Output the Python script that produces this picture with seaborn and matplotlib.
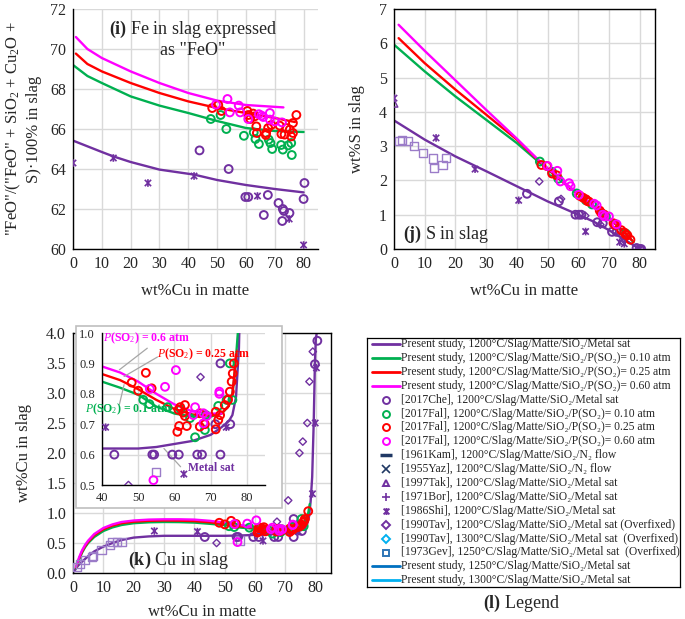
import matplotlib
matplotlib.use("Agg")
import matplotlib.pyplot as plt
import matplotlib.patches as mpatches
from matplotlib.path import Path
import seaborn as sns

sns.set_style("whitegrid")
plt.rcParams['font.family'] = ['Liberation Serif', 'DejaVu Serif']
plt.rcParams['mathtext.fontset'] = 'custom'
plt.rcParams['mathtext.rm'] = 'Liberation Serif'
plt.rcParams['mathtext.it'] = 'Liberation Serif:italic'
plt.rcParams['mathtext.bf'] = 'Liberation Serif:bold'

PURPLE = '#7030A0'
GREEN = '#00B050'
RED = '#FF0000'
MAGENTA = '#FF00FF'
LAVENDER = '#9B7CC8'
NAVY = '#203864'
# Excel style "star": an x with a vertical stroke
STAR = Path([(-1, -1), (1, 1), (-1, 1), (1, -1), (0, -1.2), (0, 1.2)],
            [Path.MOVETO, Path.LINETO, Path.MOVETO, Path.LINETO, Path.MOVETO, Path.LINETO])

# ---------------- (i) "FeO" in slag ----------------
feo_purple_x = [0, 10, 14, 20, 30, 42, 50, 60, 70, 80]
feo_purple_y = [65.42, 64.85, 64.63, 64.35, 63.97, 63.72, 63.45, 63.2, 63.0, 62.83]
feo_green_x = [0, 5, 10, 20, 30, 40, 50, 60, 70, 80]
feo_green_y = [69.2, 68.65, 68.3, 67.63, 67.17, 66.8, 66.4, 66.05, 65.9, 65.85]
feo_red_x = [1, 5, 10, 20, 30, 40, 50, 60, 70, 77]
feo_red_y = [69.77, 69.25, 68.88, 68.3, 67.8, 67.38, 67.05, 66.8, 66.55, 66.35]
feo_mag_x = [1, 5, 10, 20, 30, 40, 50, 60, 73]
feo_mag_y = [70.6, 70.0, 69.55, 68.88, 68.3, 67.8, 67.42, 67.2, 67.08]

feo_che_x = [43.9, 54.0, 59.8, 60.8, 67.6, 66.2, 71.3, 72.8, 73.2, 75.1, 72.6, 80.3, 80.0]
feo_che_y = [64.93, 64.0, 62.6, 62.6, 62.7, 61.7, 62.3, 62.0, 61.9, 61.8, 61.4, 63.3, 62.5]
feo_shi_x = [0, 14, 26, 42, 64, 75, 80]
feo_shi_y = [64.3, 64.55, 63.3, 63.65, 62.65, 61.5, 60.2]
feo_fal10_x = [47.8, 51.2, 53.2, 59.3, 62.7, 63.3, 64.5, 67.9, 68.5, 69.1, 72.2, 72.8, 75.7, 75.9, 74.6]
feo_fal10_y = [66.5, 66.7, 66.0, 65.66, 65.83, 65.5, 65.25, 65.47, 65.3, 65.0, 65.2, 64.97, 65.3, 64.7, 65.18]
feo_fal25_x = [48.3, 50.4, 51.5, 60.5, 60.8, 61.5, 62.5, 63.0, 63.6, 63.8, 67.0, 67.7, 68.8,
               71.7, 72.3, 74.0, 75.2, 75.7, 76.3, 77.5, 76.3, 73.4, 66.9]
feo_fal25_y = [67.05, 67.2, 66.9, 66.9, 66.7, 66.5, 66.77, 66.63, 66.13, 65.8, 65.8, 66.05, 66.2,
               66.17, 65.75, 66.05, 65.97, 65.63, 65.8, 66.7, 66.3, 65.72, 65.7]
feo_fal60_x = [53.6, 49.6, 54.4, 57.5, 58.0, 60.8, 65.4, 66.0, 68.3, 68.3, 70.0, 72.5, 64.5]
feo_fal60_y = [67.5, 67.22, 66.83, 67.17, 66.83, 66.5, 66.67, 66.6, 66.8, 66.47, 66.38, 66.33, 66.74]

# ---------------- (j) S in slag ----------------
s_purple_x = [0, 10, 20, 30, 40, 50, 60, 65, 70, 75, 80]
s_purple_y = [3.75, 3.19, 2.7, 2.27, 1.83, 1.39, 1.0, 0.8, 0.55, 0.28, 0.0]
s_green_x = [0, 10, 20, 30, 40, 47, 55, 60, 65, 70, 75, 78]
s_green_y = [5.96, 5.18, 4.45, 3.77, 3.09, 2.55, 1.95, 1.6, 1.25, 0.9, 0.5, 0.2]
s_red_x = [1.5, 10, 20, 30, 40, 47, 55, 60, 65, 70, 75, 77.5]
s_red_y = [6.15, 5.42, 4.65, 3.92, 3.19, 2.58, 1.95, 1.6, 1.25, 0.9, 0.5, 0.25]
s_mag_x = [1.5, 10, 20, 30, 40, 47, 55, 60, 65, 70, 73]
s_mag_y = [6.54, 5.78, 4.92, 4.06, 3.22, 2.6, 1.97, 1.62, 1.27, 0.92, 0.7]

s_fal10_x = [47.5, 51.5, 53.5, 59.5, 62.5, 64.5, 68.0, 69.0, 72.0, 75.5]
s_fal10_y = [2.55, 2.25, 2.05, 1.62, 1.42, 1.3, 1.02, 0.95, 0.72, 0.45]
s_fal25_x = [48, 49.8, 51.5, 53, 60.5, 61.5, 62.5, 63, 63.5, 67, 67.5, 68.5, 71.5, 72, 74, 75, 75.5, 76, 77]
s_fal25_y = [2.45, 2.42, 2.2, 2.15, 1.55, 1.5, 1.45, 1.4, 1.38, 1.12, 1.05, 1.0, 0.75, 0.7, 0.55, 0.48, 0.42, 0.4, 0.27]
s_fal60_x = [50, 53.2, 54.2, 57, 57.5, 60.2, 65.2, 66, 68, 68.5, 70, 72.5]
s_fal60_y = [2.42, 2.28, 1.97, 1.92, 1.83, 1.58, 1.32, 1.27, 1.0, 0.95, 0.95, 0.72]
s_che_x = [43.3, 53.7, 59.1, 60.2, 61.0, 66.2, 68.0, 71.0, 72.5, 79.0, 80.0, 80.5]
s_che_y = [1.61, 1.39, 1.0, 1.0, 1.0, 0.78, 0.75, 0.5, 0.5, 0.03, 0.0, 0.0]
s_shi_x = [0, 13.7, 26.4, 40.6, 62.4, 73.5, 75, 80]
s_shi_y = [4.4, 3.24, 2.33, 1.42, 0.51, 0.2, 0.15, 0.0]
s_tak_x = [0]
s_tak_y = [4.25]
s_tav_x = [47.3, 54.4, 62.3, 67.2, 72.0, 75.0]
s_tav_y = [1.97, 1.46, 0.97, 0.71, 0.5, 0.3]
s_gev_x = [1.8, 2.6, 4.6, 6.4, 9.5, 12.6, 13.1, 15.8, 16.9]
s_gev_y = [3.16, 3.17, 3.14, 3.01, 2.8, 2.64, 2.36, 2.46, 2.65]

# ---------------- (k) Cu in slag ----------------
cu_purple_x = [0.5, 1, 2, 3, 5, 7, 10, 13, 16, 20, 25, 30, 40, 50, 55, 60, 65, 70, 73, 75,
               76, 77, 77.8, 78.3, 78.8, 79.3, 79.7, 80.0, 80.3]
cu_purple_y = [0.03, 0.08, 0.14, 0.19, 0.28, 0.36, 0.44, 0.5, 0.55, 0.59, 0.61, 0.62, 0.62, 0.62,
               0.625, 0.635, 0.645, 0.665, 0.69, 0.71, 0.73, 0.79, 0.95, 1.2, 1.6, 2.5, 3.5, 3.9, 4.0]
cu_green_x = [1, 2, 3, 4, 5, 7, 10, 13, 16, 20, 25, 30, 35, 40, 45, 50, 55, 60, 65, 70, 73,
              75, 76, 76.5, 77, 77.5, 78]
cu_green_y = [0.08, 0.22, 0.34, 0.43, 0.5, 0.6, 0.7, 0.76, 0.8, 0.83, 0.845, 0.85, 0.848, 0.84,
              0.82, 0.797, 0.758, 0.735, 0.725, 0.725, 0.735, 0.76, 0.8, 0.85, 0.92, 1.0, 1.15]
cu_red_x = [1, 2, 3, 4, 5, 7, 10, 13, 16, 20, 25, 30, 35, 40, 45, 50, 55, 60, 65, 70, 73,
            75, 76, 76.5, 77]
cu_red_y = [0.09, 0.24, 0.36, 0.45, 0.52, 0.63, 0.73, 0.79, 0.83, 0.855, 0.87, 0.875, 0.872,
            0.865, 0.845, 0.815, 0.78, 0.75, 0.732, 0.728, 0.735, 0.76, 0.8, 0.86, 0.93]
cu_mag_x = [1, 2, 3, 4, 5, 7, 10, 13, 16, 20, 25, 30, 35, 40, 45, 50, 55, 60, 65, 70, 73]
cu_mag_y = [0.1, 0.26, 0.38, 0.47, 0.54, 0.65, 0.75, 0.81, 0.85, 0.875, 0.89, 0.895, 0.895,
            0.89, 0.87, 0.84, 0.8, 0.765, 0.742, 0.735, 0.735]

cu_fal10_x = [51.4, 53.1, 58.1, 61.7, 64.3, 65.7, 68.4, 68.7, 72.1, 74.4, 75.3, 76.0]
cu_fal10_y = [0.78, 0.766, 0.756, 0.749, 0.72, 0.657, 0.681, 0.73, 0.76, 0.78, 0.9, 0.78]
cu_fal25_x = [48.2, 50, 52.1, 53.7, 60.8, 61.1, 61.3, 61.6, 62.4, 62.9, 62.9, 63.4, 67, 67, 68.4,
              71.4, 71.4, 72.1, 72.6, 73.9, 74.8, 75.3, 75.8, 76.1, 76.4, 77.5]
cu_fal25_y = [0.837, 0.81, 0.869, 0.818, 0.675, 0.747, 0.694, 0.756, 0.738, 0.763, 0.727, 0.694,
              0.692, 0.736, 0.7, 0.741, 0.683, 0.714, 0.73, 0.763, 0.78, 0.807, 0.84, 0.867, 0.9, 1.03]
cu_fal60_x = [53.2, 57.4, 60.4, 65.2, 65.7, 68.0, 68.0, 68.9, 72.4, 72.4, 54.2]
cu_fal60_y = [0.816, 0.823, 0.878, 0.73, 0.756, 0.736, 0.703, 0.727, 0.807, 0.8, 0.516]
cu_che_x = [43.4, 53.9, 54.4, 59.4, 61.2, 66.3, 67.6, 72.7, 72.7, 71.3, 75.4, 79.7, 80.5]
cu_che_y = [0.6, 0.6, 0.6, 0.6, 0.6, 0.6, 0.6, 0.6, 0.9, 0.7, 0.7, 3.48, 3.87]
cu_shi_x = [26.8, 41.0, 62.6, 74.3, 78.9, 79.8, 80.2]
cu_shi_y = [0.7, 0.69, 0.536, 0.69, 1.32, 2.5, 3.42]
cu_tav_x = [47.3, 67.2, 70.9, 74.6, 75.7, 77.2, 77.9, 79.0]
cu_tav_y = [0.5, 0.855, 1.21, 2.0, 2.19, 2.5, 3.19, 3.69]
cu_gev_x = [1.2, 2.3, 4.0, 6.2, 6.6, 9.4, 12.2, 13.0, 14.4, 16.0, 54.9]
cu_gev_y = [0.095, 0.15, 0.22, 0.27, 0.29, 0.39, 0.47, 0.51, 0.51, 0.52, 0.542]

legend_labels = [
    "Present study, 1200°C/Slag/Matte/SiO₂/Metal sat",
    "Present study, 1200°C/Slag/Matte/SiO₂/P(SO₂)= 0.10 atm",
    "Present study, 1200°C/Slag/Matte/SiO₂/P(SO₂)= 0.25 atm",
    "Present study, 1200°C/Slag/Matte/SiO₂/P(SO₂)= 0.60 atm",
    "[2017Che], 1200°C/Slag/Matte/SiO₂/Metal sat",
    "[2017Fal], 1200°C/Slag/Matte/SiO₂/P(SO₂)= 0.10 atm",
    "[2017Fal], 1200°C/Slag/Matte/SiO₂/P(SO₂)= 0.25 atm",
    "[2017Fal], 1200°C/Slag/Matte/SiO₂/P(SO₂)= 0.60 atm",
    "[1961Kam], 1200°C/Slag/Matte/SiO₂/N₂ flow",
    "[1955Yaz], 1200°C/Slag/Matte/SiO₂/N₂ flow",
    "[1997Tak], 1200°C/Slag/Matte/SiO₂/Metal sat",
    "[1971Bor], 1200°C/Slag/Matte/SiO₂/Metal sat",
    "[1986Shi], 1200°C/Slag/Matte/SiO₂/Metal sat",
    "[1990Tav], 1200°C/Slag/Matte/SiO₂/Metal sat (Overfixed)",
    "[1990Tav], 1300°C/Slag/Matte/SiO₂/Metal sat  (Overfixed)",
    "[1973Gev], 1250°C/Slag/Matte/SiO₂/Metal sat  (Overfixed)",
    "Present study, 1250°C/Slag/Matte/SiO₂/Metal sat",
    "Present study, 1300°C/Slag/Matte/SiO₂/Metal sat",
]
# legend handle per row: (kind, colour, marker)
legend_keys = [
    ('line', PURPLE, None), ('line', GREEN, None), ('line', RED, None), ('line', MAGENTA, None),
    ('mark', PURPLE, 'o'), ('mark', GREEN, 'o'), ('mark', RED, 'o'), ('mark', MAGENTA, 'o'),
    ('mark', NAVY, '_'), ('mark', NAVY, 'x'), ('mark', PURPLE, '^'), ('mark', PURPLE, '+'),
    ('mark', PURPLE, STAR), ('mark', PURPLE, 'D'), ('mark', '#00B0F0', 'D'),
    ('mark', '#2E75B6', 's'), ('line', '#0070C0', None), ('line', '#00B0F0', None),
]


def curve(ax, x, y, color, lw=1.7):
    sns.lineplot(x=x, y=y, ax=ax, color=color, linewidth=lw, sort=False,
                 estimator=None, zorder=2)


def pts(ax, x, y, color, marker='o', s=32, lw=1.4):
    sns.scatterplot(x=x, y=y, ax=ax, color=color, marker=marker, s=s, linewidth=lw,
                    facecolor='none', edgecolor=color, zorder=3, legend=False)


def style(ax, box, size=11.5):
    ax.grid(True, color='#D9D9D9', linewidth=1)
    ax.set_axisbelow(True)
    ax.tick_params(length=0, labelsize=size, pad=5)
    for side in ['left', 'bottom', 'top', 'right']:
        ax.spines[side].set_color('black')
        ax.spines[side].set_linewidth(1)
    ax.spines['top'].set_visible(box)
    ax.spines['right'].set_visible(box)


fig = plt.figure(figsize=(6.85, 6.19), dpi=100)
W, H = 685, 619


def rect(x0, y0, x1, y1):
    return [x0 / W, 1 - y1 / H, (x1 - x0) / W, (y1 - y0) / H]


# ---- panel (i)
ax1 = fig.add_axes(rect(73, 9, 318, 249))
curve(ax1, feo_purple_x, feo_purple_y, PURPLE)
curve(ax1, feo_green_x, feo_green_y, GREEN)
curve(ax1, feo_red_x, feo_red_y, RED)
curve(ax1, feo_mag_x, feo_mag_y, MAGENTA)
pts(ax1, feo_fal10_x, feo_fal10_y, GREEN)
pts(ax1, feo_fal25_x, feo_fal25_y, RED)
pts(ax1, feo_fal60_x, feo_fal60_y, MAGENTA)
pts(ax1, feo_che_x, feo_che_y, PURPLE)
pts(ax1, feo_shi_x, feo_shi_y, PURPLE, marker=STAR, s=30, lw=1.2)
ax1.set_xlim(0, 85)
ax1.set_ylim(60, 72)
ax1.set_xticks(range(0, 81, 10))
ax1.set_yticks(range(60, 73, 2))
style(ax1, box=False)
ax1.set_xlabel("wt%Cu in matte", fontsize=12, labelpad=8)
ax1.set_ylabel('"FeO"/("FeO" + SiO$_2$ + Cu$_2$O +\nS)·100% in slag', fontsize=12, labelpad=6)
ax1.text(0.49, 0.875, '$\\mathbf{(i)}$ Fe in slag expressed\nas "FeO"', transform=ax1.transAxes,
         ha='center', va='center', fontsize=13, linespacing=1.15)

# ---- panel (j)
ax2 = fig.add_axes(rect(394, 9, 655, 249))
curve(ax2, s_purple_x, s_purple_y, PURPLE)
curve(ax2, s_green_x, s_green_y, GREEN)
curve(ax2, s_red_x, s_red_y, RED)
curve(ax2, s_mag_x, s_mag_y, MAGENTA)
pts(ax2, s_gev_x, s_gev_y, LAVENDER, marker='s', s=34, lw=1.0)
pts(ax2, s_tav_x, s_tav_y, PURPLE, marker='D', s=14, lw=1.0)
pts(ax2, s_tak_x, s_tak_y, PURPLE, marker='^', s=30, lw=1.0)
pts(ax2, s_shi_x, s_shi_y, PURPLE, marker=STAR, s=30, lw=1.2)
pts(ax2, s_che_x, s_che_y, PURPLE)
pts(ax2, s_fal10_x, s_fal10_y, GREEN)
pts(ax2, s_fal25_x, s_fal25_y, RED)
pts(ax2, s_fal60_x, s_fal60_y, MAGENTA)
ax2.set_xlim(0, 85)
ax2.set_ylim(0, 7)
ax2.set_xticks(range(0, 81, 10))
ax2.set_yticks(range(0, 8))
style(ax2, box=True)
ax2.set_xlabel("wt%Cu in matte", fontsize=12, labelpad=8)
ax2.set_ylabel("wt%S in slag", fontsize=12, labelpad=10)
ax2.text(0.035, 0.06, '$\\mathbf{(j)}$ S in slag', transform=ax2.transAxes,
         ha='left', va='center', fontsize=13)

# ---- panel (k)
ax3 = fig.add_axes(rect(73, 333, 331, 573))


def cu_panel(ax):
    curve(ax, cu_purple_x, cu_purple_y, PURPLE)
    curve(ax, cu_green_x, cu_green_y, GREEN)
    curve(ax, cu_red_x, cu_red_y, RED)
    curve(ax, cu_mag_x, cu_mag_y, MAGENTA)
    pts(ax, cu_gev_x, cu_gev_y, LAVENDER, marker='s', s=34, lw=1.0)
    pts(ax, cu_tav_x, cu_tav_y, PURPLE, marker='D', s=14, lw=1.0)
    pts(ax, cu_shi_x, cu_shi_y, PURPLE, marker=STAR, s=30, lw=1.2)
    pts(ax, cu_che_x, cu_che_y, PURPLE)
    pts(ax, cu_fal10_x, cu_fal10_y, GREEN)
    pts(ax, cu_fal25_x, cu_fal25_y, RED)
    pts(ax, cu_fal60_x, cu_fal60_y, MAGENTA)


cu_panel(ax3)
ax3.set_xlim(0, 85)
ax3.set_ylim(0, 4)
ax3.set_xticks(range(0, 81, 10))
ax3.set_yticks([0, 0.5, 1, 1.5, 2, 2.5, 3, 3.5, 4])
ax3.set_yticklabels([f"{v:.1f}" for v in ax3.get_yticks()])
style(ax3, box=True)
ax3.set_xlabel("wt%Cu in matte", fontsize=12, labelpad=6)
ax3.set_ylabel("wt%Cu in slag", fontsize=12, labelpad=10)
ax3.text(0.213, 0.054, '$\\mathbf{(k)}$ Cu in slag', transform=ax3.transAxes,
         ha='left', va='center', fontsize=13)

# inset background box
fig.patches.append(mpatches.Rectangle((76 / W, 1 - 508 / H), 206 / W, 182 / H,
                                      transform=fig.transFigure, facecolor='white',
                                      edgecolor='#BFBFBF', linewidth=1.2, zorder=1))
ax4 = fig.add_axes(rect(102, 333, 265, 485))
ax4.set_zorder(2)
cu_panel(ax4)
ax4.set_xlim(40, 85)
ax4.set_ylim(0.5, 1.0)
ax4.set_xticks(range(40, 81, 10))
ax4.set_yticks([0.5, 0.6, 0.7, 0.8, 0.9, 1.0])
ax4.set_yticklabels([f"{v:.1f}" for v in ax4.get_yticks()])
style(ax4, box=False, size=9)
ax4.set_xlabel("")
ax4.set_ylabel("")

lead = dict(color='#A6A6A6', linewidth=0.9, clip_on=False)
ax4.plot([52.5, 44.8], [0.95, 0.879], **lead)
ax4.plot([55.3, 46.1], [0.921, 0.857], **lead)
ax4.plot([44.8, 46.1], [0.765, 0.83], **lead)
ax4.plot([61.7, 57.1], [0.56, 0.62], **lead)
ax4.text(40.3, 0.984, "$P$(SO$_2$) = 0.6 atm", color=MAGENTA, fontsize=8.5,
         fontweight='bold', va='center', ha='left')
ax4.text(55.3, 0.931, "$P$(SO$_2$) = 0.25 atm", color=RED, fontsize=8.5,
         fontweight='bold', va='center', ha='left')
ax4.text(35.3, 0.748, "$P$(SO$_2$) = 0.1 atm", color=GREEN, fontsize=8.5,
         fontweight='bold', va='center', ha='left')
ax4.text(63.7, 0.555, "Metal sat", color=PURPLE, fontsize=8.5,
         fontweight='bold', va='center', ha='left')

# ---- legend panel (l): a boxed area laid out in pixel units
ax5 = fig.add_axes(rect(367, 338, 680, 587))
ax5.set_xlim(0, 313)
ax5.set_ylim(249, 0)
ax5.set_xticks([])
ax5.set_yticks([])
ax5.grid(False)
for side in ax5.spines.values():
    side.set_color('black')
    side.set_linewidth(0.9)
for i, ((kind, col, mk), lab) in enumerate(zip(legend_keys, legend_labels)):
    yy = 6 + i * 13.9
    if kind == 'line':
        ax5.plot([5, 33], [yy, yy], color=col, lw=2)
    elif mk in ('x', '+', '_'):
        ax5.plot([19], [yy], ls='none', marker=mk, color=col,
                 mew=2.5 if mk == '_' else 1.2, ms=8 if mk == '_' else 5.5)
    else:
        ax5.plot([19], [yy], ls='none', marker=mk, mfc='none', mec=col, mew=1.4,
                 ms=4 if mk == 'D' else 5)
    ax5.text(34, yy, lab, va='center', ha='left', fontsize=8.35)
fig.text(522 / W, 1 - 603 / H, "$\\mathbf{(l)}$ Legend", ha='center', va='center', fontsize=13)

fig.savefig("out.png", dpi=100)
